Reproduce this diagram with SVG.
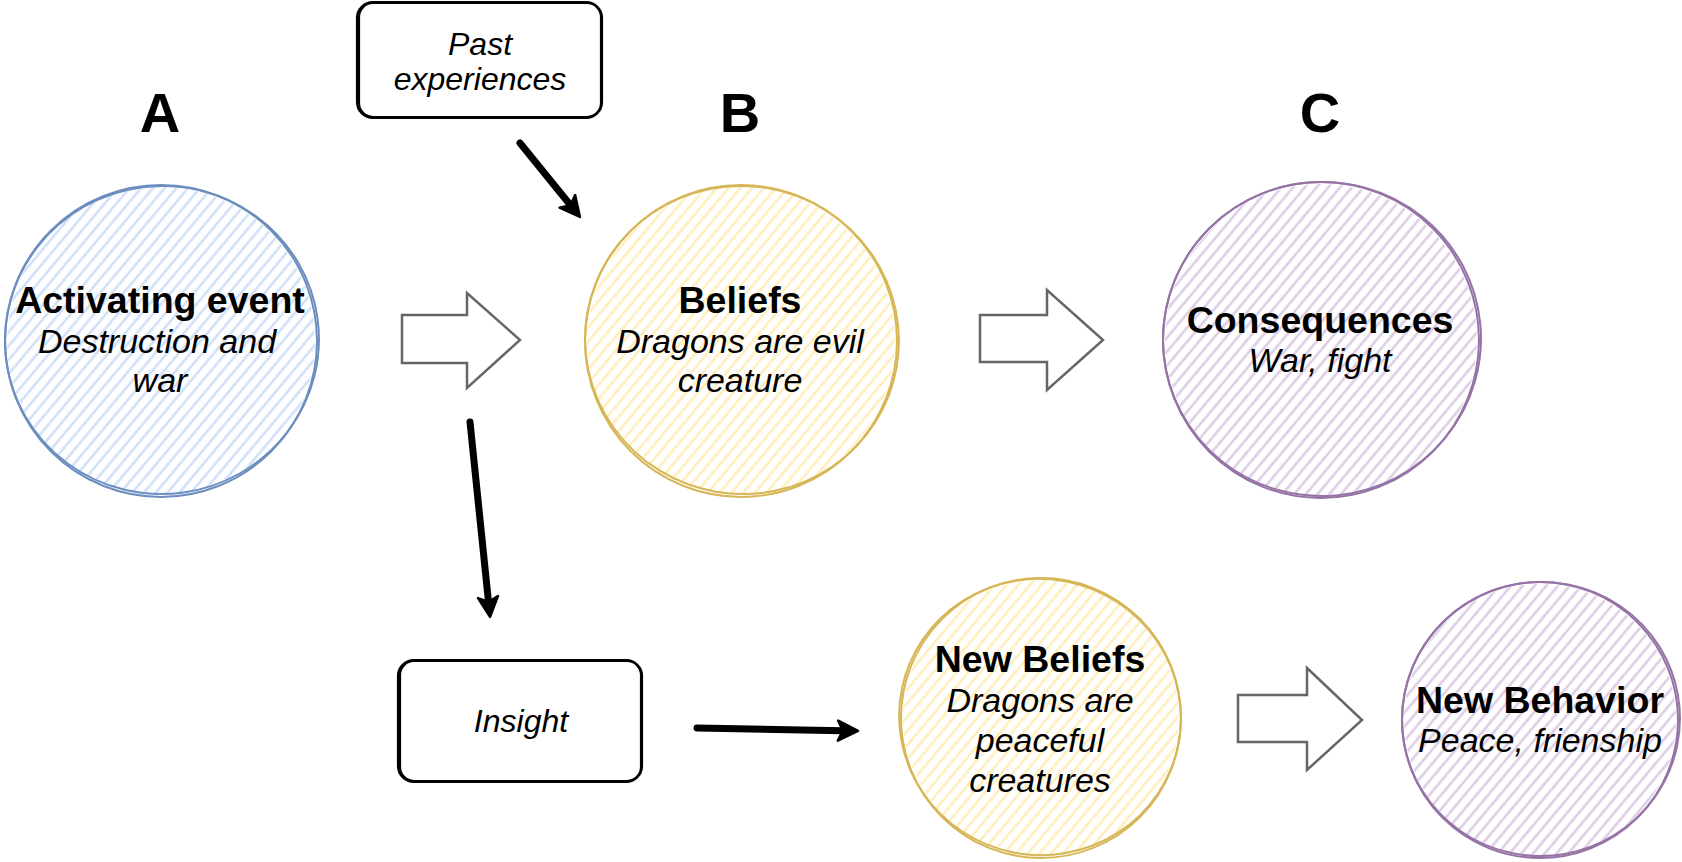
<svg xmlns="http://www.w3.org/2000/svg" width="1682" height="862" viewBox="0 0 1682 862">
<defs>
<pattern id="hBlue" patternUnits="userSpaceOnUse" width="9" height="9" patternTransform="rotate(40)"><line x1="4" y1="0" x2="4" y2="9" stroke="#cfe0f8" stroke-width="2.6"/></pattern>
<pattern id="hYellow" patternUnits="userSpaceOnUse" width="9" height="9" patternTransform="rotate(40)"><line x1="4" y1="0" x2="4" y2="9" stroke="#ffedbb" stroke-width="2.6"/></pattern>
<pattern id="hPurple" patternUnits="userSpaceOnUse" width="9" height="9" patternTransform="rotate(40)"><line x1="4" y1="0" x2="4" y2="9" stroke="#dccde4" stroke-width="2.6"/></pattern>
<marker id="ah" viewBox="0 0 24 24" refX="7" refY="12" markerWidth="24" markerHeight="24" markerUnits="userSpaceOnUse" orient="auto">
<path d="M2,2 L22,12 L2,22 L7,12 Z" fill="#000" stroke="#000" stroke-width="2.5" stroke-linejoin="round"/>
</marker>
</defs>
<style>
.b{font-family:"Liberation Sans",Arial,sans-serif;font-weight:bold;font-size:37.5px;text-anchor:middle;fill:#000}
.i{font-family:"Liberation Sans",Arial,sans-serif;font-style:italic;font-size:34px;text-anchor:middle;fill:#000}
.s{font-family:"Liberation Sans",Arial,sans-serif;font-style:italic;font-size:32px;text-anchor:middle;fill:#000}
.L{font-family:"Liberation Sans",Arial,sans-serif;font-weight:bold;font-size:56px;text-anchor:middle;fill:#000}
.cb{stroke:#6c8ebf;stroke-width:2;fill:none}
.cy{stroke:#d6b656;stroke-width:2;fill:none}
.cp{stroke:#9673a6;stroke-width:2;fill:none}
.box{stroke:#000;stroke-width:2.2;fill:none}
.ha{stroke:#666;stroke-width:2.5;fill:#fff;stroke-linejoin:miter}
.con{stroke:#000;stroke-width:7;fill:none;stroke-linecap:round;marker-end:url(#ah)}
</style>
<rect width="1682" height="862" fill="#fff"/>

<g id="labels">
<text class="L" x="160" y="132">A</text>
<text class="L" x="740" y="132">B</text>
<text class="L" x="1320" y="132">C</text>
</g>

<g id="activating">
<circle cx="161" cy="341" r="154" fill="url(#hBlue)"/>
<circle class="cb" cx="161" cy="341" r="156"/>
<ellipse class="cb" cx="162" cy="340" rx="157" ry="154" transform="rotate(-8 162 340)"/>
<text class="b" x="160" y="313">Activating event</text>
<text class="i" x="157" y="353">Destruction and</text>
<text class="i" x="160" y="392">war</text>
</g>

<g id="beliefs">
<circle cx="741" cy="341" r="154" fill="url(#hYellow)"/>
<circle class="cy" cx="741" cy="341" r="156"/>
<ellipse class="cy" cx="742" cy="340" rx="157" ry="154" transform="rotate(10 742 340)"/>
<text class="b" x="740" y="313">Beliefs</text>
<text class="i" x="740" y="353">Dragons are evil</text>
<text class="i" x="740" y="392">creature</text>
</g>

<g id="consequences">
<circle cx="1321" cy="340" r="156" fill="url(#hPurple)"/>
<circle class="cp" cx="1321" cy="340" r="158"/>
<ellipse class="cp" cx="1322" cy="339" rx="159" ry="157" transform="rotate(-6 1322 339)"/>
<text class="b" x="1320" y="333">Consequences</text>
<text class="i" x="1320" y="372">War, fight</text>
</g>

<g id="newbeliefs">
<circle cx="1041" cy="718" r="138" fill="url(#hYellow)"/>
<circle class="cy" cx="1041" cy="718" r="140"/>
<ellipse class="cy" cx="1040" cy="717" rx="141" ry="138" transform="rotate(12 1040 717)"/>
<text class="b" x="1040" y="672">New Beliefs</text>
<text class="i" x="1040" y="712">Dragons are</text>
<text class="i" x="1040" y="752">peaceful</text>
<text class="i" x="1040" y="792">creatures</text>
</g>

<g id="newbehavior">
<circle cx="1540" cy="720" r="136" fill="url(#hPurple)"/>
<circle class="cp" cx="1540" cy="720" r="138"/>
<ellipse class="cp" cx="1541" cy="719" rx="139" ry="137" transform="rotate(-10 1541 719)"/>
<text class="b" x="1540" y="713">New Behavior</text>
<text class="i" x="1540" y="752">Peace, frienship</text>
</g>

<g id="past">
<rect class="box" x="357" y="2" width="245" height="116" rx="16"/>
<rect class="box" x="359" y="3" width="242" height="114" rx="14" stroke-width="1.5"/>
<text class="s" x="480" y="55">Past</text>
<text class="s" x="480" y="90">experiences</text>
</g>

<g id="insight">
<rect class="box" x="398" y="660" width="244" height="122" rx="16"/>
<rect class="box" x="400" y="661" width="241" height="120" rx="14" stroke-width="1.5"/>
<text class="s" x="521" y="732">Insight</text>
</g>

<g id="connectors">
<polygon class="ha" points="402,315 467,315 467,293 520,340 467,388 467,363 402,363"/>
<polygon class="ha" points="980,315 1047,315 1047,290 1103,340 1047,390 1047,362 980,362"/>
<polygon class="ha" points="1238,695 1307,695 1307,668 1362,720 1307,770 1307,742 1238,742"/>
<line class="con" x1="520" y1="143" x2="570.5" y2="205.3"/>
<line class="con" x1="470" y1="422" x2="488.5" y2="602"/>
<line class="con" x1="697" y1="728" x2="843" y2="730.7"/>
</g>
</svg>
